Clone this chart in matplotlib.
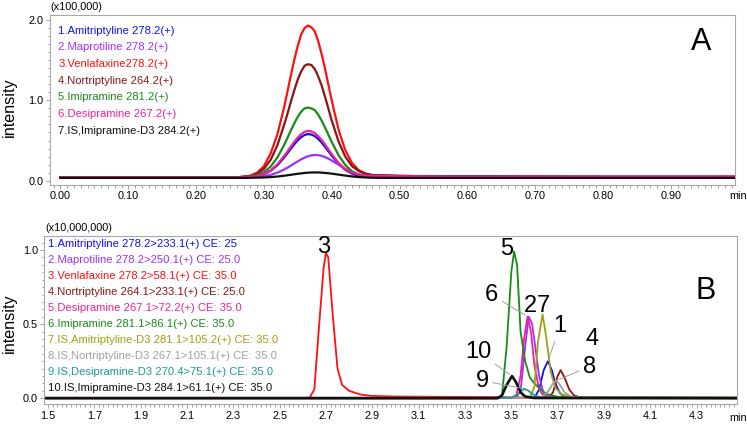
import matplotlib
matplotlib.use("Agg")
import matplotlib.pyplot as plt
from matplotlib.ticker import MultipleLocator, FormatStrFormatter
import numpy as np

plt.rcParams['font.family'] = ['Liberation Sans', 'DejaVu Sans']

# ---- panel A : scan chromatograms (x100,000) ----
time_a = [0.00, 0.20, 0.26, 0.28, 0.29, 0.30, 0.31, 0.32, 0.33, 0.335, 0.34, 0.345, 0.35, 0.355, 0.36,
          0.365, 0.37, 0.375, 0.38, 0.385, 0.39, 0.395, 0.40, 0.41, 0.42, 0.43, 0.44, 0.45, 0.46,
          0.48, 0.50, 0.55, 0.60, 0.80, 1.00]
amitriptyline_a = [0.04, 0.04, 0.04, 0.046, 0.057, 0.08, 0.124, 0.193, 0.29, 0.345, 0.401, 0.455, 0.504,
                   0.543, 0.569, 0.58, 0.575, 0.555, 0.521, 0.476, 0.423, 0.368, 0.312, 0.211, 0.136,
                   0.088, 0.061, 0.048, 0.043, 0.04, 0.04, 0.04, 0.04, 0.04, 0.04]
maprotiline_a = [0.04, 0.04, 0.04, 0.043, 0.048, 0.057, 0.073, 0.10, 0.14, 0.163, 0.189, 0.215, 0.241,
                 0.266, 0.287, 0.304, 0.315, 0.32, 0.318, 0.309, 0.294, 0.275, 0.251, 0.199, 0.149,
                 0.107, 0.078, 0.059, 0.049, 0.045, 0.045, 0.045, 0.045, 0.045, 0.045]
venlafaxine_a = [0.04, 0.04, 0.042, 0.063, 0.10, 0.18, 0.34, 0.58, 0.92, 1.12, 1.32, 1.51, 1.68,
                 1.82, 1.90, 1.93, 1.91, 1.86, 1.74, 1.58, 1.40, 1.20, 1.00, 0.64, 0.38,
                 0.22, 0.13, 0.09, 0.07, 0.065, 0.06, 0.055, 0.055, 0.05, 0.05]
nortriptyline_a = [0.04, 0.04, 0.041, 0.057, 0.085, 0.147, 0.26, 0.443, 0.70, 0.84, 0.99, 1.13, 1.26,
                   1.36, 1.43, 1.45, 1.44, 1.39, 1.30, 1.19, 1.05, 0.90, 0.75, 0.49, 0.30,
                   0.18, 0.12, 0.086, 0.07, 0.065, 0.06, 0.055, 0.055, 0.05, 0.05]
imipramine_a = [0.04, 0.04, 0.041, 0.051, 0.068, 0.106, 0.176, 0.29, 0.447, 0.537, 0.629, 0.717, 0.796,
                0.859, 0.90, 0.91, 0.90, 0.879, 0.823, 0.75, 0.665, 0.574, 0.483, 0.318, 0.196,
                0.117, 0.074, 0.053, 0.045, 0.045, 0.045, 0.045, 0.045, 0.045, 0.045]
desipramine_a = [0.04, 0.04, 0.04, 0.047, 0.059, 0.083, 0.13, 0.205, 0.309, 0.368, 0.428, 0.486, 0.538,
                 0.58, 0.608, 0.62, 0.614, 0.593, 0.556, 0.508, 0.452, 0.392, 0.332, 0.223, 0.143,
                 0.10, 0.078, 0.064, 0.06, 0.058, 0.055, 0.052, 0.05, 0.05, 0.05]
is_imipramine_a = [0.035, 0.035, 0.035, 0.036, 0.038, 0.04, 0.045, 0.052, 0.062, 0.068, 0.074, 0.08, 0.086,
                   0.091, 0.096, 0.1, 0.102, 0.103, 0.103, 0.1, 0.097, 0.093, 0.088, 0.076, 0.064,
                   0.053, 0.045, 0.04, 0.037, 0.035, 0.035, 0.035, 0.035, 0.035, 0.035]

labels_a = ["1.Amitriptyline 278.2(+)", "2.Maprotiline 278.2(+)", "3.Venlafaxine278.2(+)",
            "4.Nortriptyline 264.2(+)", "5.Imipramine 281.2(+)", "6.Desipramine 267.2(+)",
            "7.IS,Imipramine-D3 284.2(+)"]
colors_a = ["#1010f0", "#9b30ff", "#ff1010", "#8b1515", "#1a8a1a", "#f0209a", "#111111"]

# ---- panel B : MRM chromatograms (x10,000,000) ----
t_ami = [1.48, 3.60, 3.62, 3.64, 3.658, 3.675, 3.69, 3.71, 3.73, 3.78, 4.48]
y_ami = [0.003, 0.003, 0.06, 0.19, 0.25, 0.19, 0.10, 0.035, 0.01, 0.003, 0.003]
t_map = [1.48, 3.52, 3.54, 3.56, 3.575, 3.59, 3.605, 3.62, 3.64, 3.66, 3.70, 4.48]
y_map = [0.003, 0.003, 0.05, 0.35, 0.55, 0.50, 0.33, 0.15, 0.03, 0.008, 0.003, 0.003]
t_ven = [1.48, 2.60, 2.63, 2.65, 2.67, 2.69, 2.70, 2.71, 2.73, 2.75, 2.77, 2.80, 2.85, 2.90, 3.00, 3.20, 3.45, 3.50, 4.48]
y_ven = [0.003, 0.003, 0.005, 0.06, 0.48, 0.88, 0.98, 0.95, 0.55, 0.20, 0.09, 0.05, 0.025, 0.016, 0.012, 0.01, 0.008, 0.005, 0.004]
t_nor = [1.48, 3.66, 3.68, 3.70, 3.713, 3.73, 3.75, 3.77, 3.80, 4.48]
y_nor = [0.003, 0.003, 0.04, 0.15, 0.19, 0.14, 0.06, 0.02, 0.005, 0.003]
t_des = [1.48, 3.50, 3.52, 3.54, 3.555, 3.57, 3.585, 3.60, 3.62, 3.64, 3.70, 4.48]
y_des = [0.003, 0.003, 0.01, 0.15, 0.40, 0.55, 0.45, 0.22, 0.06, 0.015, 0.005, 0.003]
t_imi = [1.48, 3.44, 3.46, 3.48, 3.50, 3.512, 3.525, 3.54, 3.56, 3.58, 3.60, 3.62, 3.65, 3.70, 3.80, 4.48]
y_imi = [0.003, 0.003, 0.02, 0.35, 0.85, 0.99, 0.90, 0.45, 0.25, 0.14, 0.10, 0.07, 0.03, 0.01, 0.005, 0.005]
t_is_ami = [1.48, 3.58, 3.60, 3.615, 3.635, 3.65, 3.67, 3.69, 3.72, 3.76, 3.80, 4.48]
y_is_ami = [0.003, 0.003, 0.08, 0.38, 0.565, 0.42, 0.18, 0.07, 0.025, 0.008, 0.004, 0.003]
t_is_nor = [1.48, 3.63, 3.66, 3.68, 3.695, 3.71, 3.73, 3.76, 3.80, 4.48]
y_is_nor = [0.003, 0.003, 0.05, 0.10, 0.12, 0.09, 0.04, 0.01, 0.003, 0.003]
t_is_des = [1.48, 3.50, 3.53, 3.555, 3.575, 3.60, 3.63, 4.48]
y_is_des = [0.003, 0.003, 0.03, 0.065, 0.05, 0.02, 0.005, 0.003]
t_is_imi = [1.48, 3.44, 3.46, 3.48, 3.503, 3.52, 3.54, 3.56, 3.60, 4.48]
y_is_imi = [0.0, 0.0, 0.02, 0.09, 0.15, 0.11, 0.04, 0.012, 0.002, 0.0]

labels_b = ["1.Amitriptyline 278.2>233.1(+) CE: 25", "2.Maprotiline 278.2>250.1(+) CE: 25.0",
            "3.Venlafaxine 278.2>58.1(+) CE: 35.0", "4.Nortriptyline 264.1>233.1(+) CE: 25.0",
            "5.Desipramine 267.1>72.2(+) CE: 35.0", "6.Imipramine 281.1>86.1(+) CE: 35.0",
            "7.IS,Amitriptyline-D3 281.1>105.2(+) CE: 35.0", "8.IS,Nortriptyline-D3 267.1>105.1(+) CE: 35.0",
            "9.IS,Desipramine-D3 270.4>75.1(+) CE: 35.0", "10.IS,Imipramine-D3 284.1>61.1(+) CE: 35.0"]
colors_b = ["#1010f0", "#9b30ff", "#ff1010", "#8b1515", "#f0209a", "#1a8a1a",
            "#a0a010", "#a0a0a0", "#1a9a9a", "#111111"]
peak_tags = ["1", "2", "3", "4", "6", "5", "7", "8", "9", "10"]
# text offsets (pixels) of the peak numbers from their apex
tag_offsets = [(12, 35), (2, 11), (-2, 6), (31, 31), (-36, 22), (-7, 3), (1, 9), (33, 14), (-42, 8), (-34, 24)]
tag_leader = [True, False, False, False, True, False, False, True, True, True]

W, H = 747, 424
fig = plt.figure(figsize=(W / 100, H / 100), dpi=100)


def fx(px):
    return px / W


def fy(py):
    return 1 - py / H


def style_axes(ax):
    for s in ax.spines.values():
        s.set_color("#a8a8a8")
        s.set_linewidth(0.8)
    ax.tick_params(which="both", direction="out", colors="#909090", labelcolor="black",
                   labelsize=7.8, width=0.6)
    ax.tick_params(which="major", length=3, pad=1.5)
    ax.tick_params(which="minor", length=1.8)


axA = fig.add_axes([fx(49.5), fy(185), fx(735) - fx(49.5), fy(15) - fy(185)])
series_a = [amitriptyline_a, maprotiline_a, venlafaxine_a, nortriptyline_a,
            imipramine_a, desipramine_a, is_imipramine_a]
for ys, c in zip(series_a, colors_a):
    axA.plot(time_a, ys, color=c, lw=1.6, solid_joinstyle="round")
axA.set_xlim(-0.0162, 0.9948)
axA.set_ylim(-0.0535, 2.062)
axA.xaxis.set_major_locator(MultipleLocator(0.1))
axA.xaxis.set_minor_locator(MultipleLocator(0.01))
axA.xaxis.set_major_formatter(FormatStrFormatter("%.2f"))
axA.set_yticks([0.0, 1.0, 2.0])
axA.yaxis.set_minor_locator(MultipleLocator(0.1))
axA.yaxis.set_major_formatter(FormatStrFormatter("%.1f"))
style_axes(axA)
for i, (lab, c) in enumerate(zip(labels_a, colors_a)):
    fig.text(fx(58.3), fy(30.7 + 16.67 * i), lab, color=c, fontsize=8.1, va="center", ha="left")
fig.text(fx(50), fy(7), "(x100,000)", fontsize=7.8, va="center", ha="left")
fig.text(fx(737.7), fy(196), "min", fontsize=7.8, va="center", ha="center")
fig.text(fx(701.5), fy(42.5), "A", fontsize=22, va="center", ha="center")
fig.text(fx(9), fy(107.5), "intensity", fontsize=11.6, rotation=90, va="center", ha="center")

axB = fig.add_axes([fx(44.3), fy(404.3), fx(736.5) - fx(44.3), fy(235.5) - fy(404.3)])
series_b = [(t_ami, y_ami), (t_map, y_map), (t_ven, y_ven), (t_nor, y_nor), (t_des, y_des),
            (t_imi, y_imi), (t_is_ami, y_is_ami), (t_is_nor, y_is_nor), (t_is_des, y_is_des),
            (t_is_imi, y_is_imi)]
for (ts, ys), c in zip(series_b, colors_b):
    lw = 1.9 if c == "#111111" else 1.3
    axB.plot(ts, ys, color=c, lw=lw, solid_joinstyle="round")
for (ts, ys), tag, off, lead in zip(series_b, peak_tags, tag_offsets, tag_leader):
    k = int(np.argmax(ys))
    arrow = dict(arrowstyle="-", color="#a0a0a0", lw=0.7, shrinkA=1, shrinkB=2) if lead else None
    axB.annotate(tag, xy=(ts[k], ys[k]), xytext=off, textcoords="offset pixels",
                 fontsize=17, ha="center", va="center", arrowprops=arrow)
axB.set_xlim(1.4845, 4.472)
axB.set_ylim(-0.0405, 1.098)
axB.set_xticks(np.arange(1.5, 4.4, 0.2))
axB.xaxis.set_minor_locator(MultipleLocator(0.02))
axB.xaxis.set_major_formatter(FormatStrFormatter("%.1f"))
axB.set_yticks([0.0, 0.5, 1.0])
axB.yaxis.set_minor_locator(MultipleLocator(0.05))
axB.yaxis.set_major_formatter(FormatStrFormatter("%.1f"))
style_axes(axB)
for i, (lab, c) in enumerate(zip(labels_b, colors_b)):
    fig.text(fx(47.7), fy(244.3 + 15.93 * i), lab, color=c, fontsize=8.1, va="center", ha="left")
fig.text(fx(45), fy(228.3), "(x10,000,000)", fontsize=7.8, va="center", ha="left")
fig.text(fx(738.3), fy(418.3), "min", fontsize=7.8, va="center", ha="center")
fig.text(fx(706), fy(291), "B", fontsize=22, va="center", ha="center")
fig.text(fx(9), fy(323), "intensity", fontsize=11.6, rotation=90, va="center", ha="center")

fig.savefig("out.png", dpi=100)
